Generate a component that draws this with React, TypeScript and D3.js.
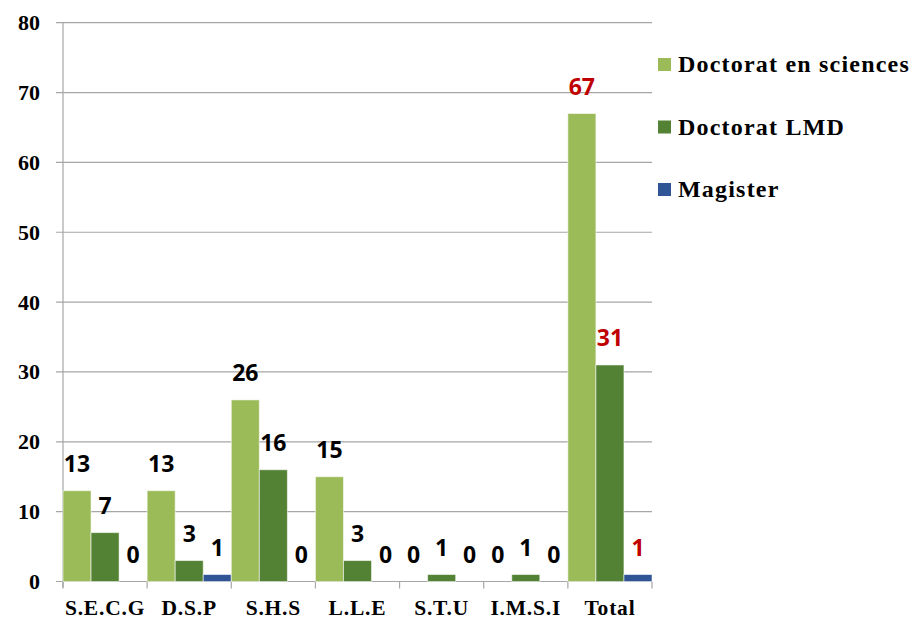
import React from "react";
import * as d3 from "d3";

const categories = ["S.E.C.G", "D.S.P", "S.H.S", "L.L.E", "S.T.U", "I.M.S.I", "Total"];
const seriesNames = ["Doctorat en sciences", "Doctorat LMD", "Magister"];
const doctoratSciences = [13, 13, 26, 15, 0, 0, 67];
const doctoratLMD = [7, 3, 16, 3, 1, 1, 31];
const magister = [0, 1, 0, 0, 0, 0, 1];
const yTicks = [0, 10, 20, 30, 40, 50, 60, 70, 80];
const colors = ["#9bbb59", "#548235", "#2f5597"];

const W = 915;
const H = 618;
const left = 63;
const right = 652;
const top = 22.7;
const bottom = 581.5;

export default function App() {
  const seriesValues = [doctoratSciences, doctoratLMD, magister];
  const x = d3.scaleBand<string>().domain(categories).range([left, right]).padding(0);
  const xi = d3.scaleBand<string>().domain(seriesNames).range([0, x.bandwidth()]).padding(0);
  const y = d3.scaleLinear().domain([0, 80]).range([bottom, top]);
  const serif = "'Liberation Serif', 'Times New Roman', serif";
  const sans = "'Open Sans', 'Noto Sans', sans-serif";
  const boundaries = categories.map((c) => x(c) as number).concat([right]);

  return (
    <svg width={W} height={H} style={{ position: "absolute", left: 0, top: 0, background: "#fff" }}>
      {yTicks.map((t) => (
        <g key={"g" + t}>
          <line x1={56} x2={right} y1={y(t)} y2={y(t)} stroke="#a6a6a6" strokeWidth={1.2} />
          <text x={40} y={y(t) + 7.5} textAnchor="end" fontFamily={serif} fontWeight="bold" fontSize={22} fill="#000">
            {t}
          </text>
        </g>
      ))}
      <line x1={left} x2={left} y1={top} y2={bottom + 6} stroke="#a6a6a6" strokeWidth={1.2} />
      {boundaries.map((b, i) => (
        <line key={"xt" + i} x1={b} x2={b} y1={bottom} y2={bottom + 7} stroke="#a6a6a6" strokeWidth={1.2} />
      ))}
      {categories.map((c, ci) =>
        seriesNames.map((s, si) => {
          const v = seriesValues[si][ci];
          const bx = (x(c) as number) + (xi(s) as number);
          const by = y(v);
          return (
            <rect
              key={c + s}
              x={bx}
              y={by}
              width={xi.bandwidth()}
              height={bottom - by}
              fill={colors[si]}
              stroke="#ffffff"
              strokeOpacity={0.55}
              strokeWidth={1}
            />
          );
        })
      )}
      {categories.map((c, ci) =>
        seriesNames.map((s, si) => {
          const v = seriesValues[si][ci];
          const cx = (x(c) as number) + (xi(s) as number) + xi.bandwidth() / 2;
          return (
            <text
              key={"l" + c + s}
              x={cx}
              y={y(v) - 19}
              textAnchor="middle"
              fontFamily={sans}
              fontWeight="bold"
              fontSize={23}
              fill={c === "Total" ? "#c00000" : "#000"}
            >
              {v}
            </text>
          );
        })
      )}
      {categories.map((c) => (
        <text
          key={"xl" + c}
          x={(x(c) as number) + x.bandwidth() / 2}
          y={614.5}
          textAnchor="middle"
          fontFamily={serif}
          fontWeight="bold"
          fontSize={21.5}
          letterSpacing={0.8}
          fill="#000"
        >
          {c}
        </text>
      ))}
      {seriesNames.map((s, si) => {
        const baseY = 72 + si * 62.5;
        return (
          <g key={"lg" + s}>
            <rect x={658} y={baseY - 14} width={13} height={13} fill={colors[si]} />
            <text x={678} y={baseY} fontFamily={serif} fontWeight="bold" fontSize={24} letterSpacing={1.2} fill="#000">
              {s}
            </text>
          </g>
        );
      })}
    </svg>
  );
}
